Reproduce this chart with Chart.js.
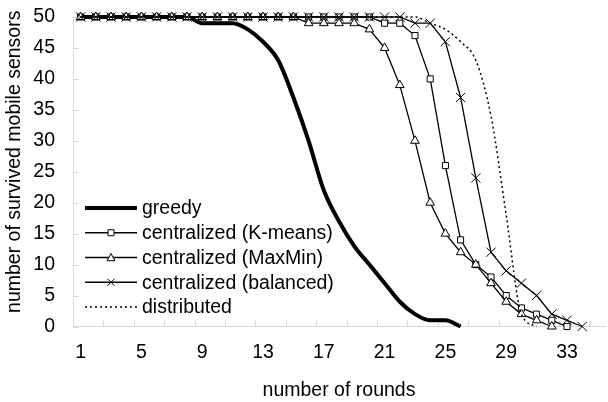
<!DOCTYPE html>
<html>
<head>
<meta charset="utf-8">
<script src="https://cdn.jsdelivr.net/npm/chart.js@4.4.1/dist/chart.umd.min.js"></script>
<style>
  html, body { margin: 0; padding: 0; background: #fff; }
</style>
</head>
<body>
<canvas id="roundsChart" width="608" height="402"></canvas>
<script>
// ======================================
// Data
// ======================================

const rounds = [
  "1", "2", "3", "4", "5", "6", "7", "8", "9", "10", "11", "12",
  "13", "14", "15", "16", "17", "18", "19", "20", "21", "22", "23", "24",
  "25", "26", "27", "28", "29", "30", "31", "32", "33", "34", "35",
];

const greedy = [
  50, 50, 50, 50, 50, 50, 50, 50, 49, 49, 49, 48, 46,
  43, 37, 30, 22, 17, 13, 10, 7, 4, 2, 1, 1, 0,
];
const kMeans = [
  50, 50, 50, 50, 50, 50, 50, 50, 50, 50, 50, 50, 50, 50, 50, 50, 50, 50, 50, 50,
  49, 49, 47, 40, 26, 14, 10, 8, 5, 3, 2, 1, 0,
];
const maxMin = [
  50, 50, 50, 50, 50, 50, 50, 50, 50, 50, 50, 50, 50, 50, 50,
  49, 49, 49, 49, 48, 45, 39, 30, 20, 15, 12, 10, 7, 4, 2, 1, 0,
];
const balanced = [
  50, 50, 50, 50, 50, 50, 50, 50, 50, 50, 50, 50, 50, 50, 50, 50, 50, 50, 50, 50, 50, 50,
  49, 49, 46, 37, 24, 12, 9, 7, 5, 2, 1, 0,
];
const distributed = [
  50, 50, 50, 50, 50, 50, 50, 50, 50, 50, 50, 50, 50, 50, 50, 50, 50, 50, 50, 50, 50, 50, 50,
  49, 48, 46, 43, 34, 18, 2, 0,
];

const yTicks = [0, 5, 10, 15, 20, 25, 30, 35, 40, 45, 50];
const seriesNames = [
  "greedy",
  "centralized (K-means)",
  "centralized (MaxMin)",
  "centralized (balanced)",
  "distributed",
];
const yTitle = "number of survived mobile sensors";

const FONT = { family: "'Liberation Sans', Arial, sans-serif", size: 19.5 };
const AXIS_GREY = "#d9d9d9";

// ======================================
// Helpers
// ======================================

function drawMarker(ctx, style, x, y, r) {
  ctx.beginPath();
  if (style === "rect") {
    ctx.rect(x - r, y - r, 2 * r, 2 * r);
    ctx.fillStyle = "#fff";
    ctx.fill();
  } else if (style === "triangle") {
    ctx.moveTo(x, y - r);
    ctx.lineTo(x + r, y + r * 0.8);
    ctx.lineTo(x - r, y + r * 0.8);
    ctx.closePath();
    ctx.fillStyle = "#fff";
    ctx.fill();
  } else if (style === "crossRot") {
    ctx.moveTo(x - r, y - r);
    ctx.lineTo(x + r, y + r);
    ctx.moveTo(x + r, y - r);
    ctx.lineTo(x - r, y + r);
  }
  ctx.stroke();
}

// tick marks pointing into the plot, Excel style
const insideTicks = {
  id: "insideTicks",
  beforeDatasetsDraw(chart) {
    const { ctx, chartArea, scales } = chart;
    ctx.save();
    ctx.strokeStyle = AXIS_GREY;
    ctx.lineWidth = 1;
    ctx.beginPath();
    yTicks.forEach((v) => {
      const py = Math.round(scales.y.getPixelForValue(v)) + 0.5;
      ctx.moveTo(chartArea.left, py);
      ctx.lineTo(chartArea.left + 6, py);
    });
    const step = (chartArea.right - chartArea.left) / rounds.length;
    for (let i = 0; i <= rounds.length; i += 2) {
      const px = Math.round(chartArea.left + i * step) + 0.5;
      ctx.moveTo(px, chartArea.bottom);
      ctx.lineTo(px, chartArea.bottom - 6);
    }
    ctx.stroke();
    ctx.restore();
  },
};

// legend in the lower left of the plot + the y title (sits a bit above centre)
const plotLegend = {
  id: "plotLegend",
  afterDraw(chart) {
    const { ctx, chartArea } = chart;
    const markerSize = [0, 3, 4, 3.5, 0];
    ctx.save();
    ctx.font = `${FONT.size}px ${FONT.family}`;
    ctx.textBaseline = "middle";
    chart.data.datasets.forEach((ds, i) => {
      const y = chartArea.bottom - 118.5 + i * 24.75;
      const x0 = chartArea.left + 12;
      const x1 = chartArea.left + 64;
      ctx.strokeStyle = "#000";
      ctx.lineWidth = ds.borderWidth;
      ctx.setLineDash(ds.borderDash || []);
      ctx.beginPath();
      ctx.moveTo(x0, y);
      ctx.lineTo(x1, y);
      ctx.stroke();
      ctx.setLineDash([]);
      if (ds.pointRadius > 0) {
        ctx.lineWidth = 1;
        drawMarker(ctx, ds.pointStyle, (x0 + x1) / 2, y, markerSize[i]);
      }
      ctx.fillStyle = "#000";
      ctx.textAlign = "left";
      ctx.fillText(seriesNames[i], chartArea.left + 69, y + 1);
    });

    ctx.translate(15, (chartArea.top + chartArea.bottom) / 2 - 10);
    ctx.rotate(-Math.PI / 2);
    ctx.textAlign = "center";
    ctx.fillText(yTitle, 0, 0);
    ctx.restore();
  },
};

// ======================================
// Chart
// ======================================

function lineSeries(label, data, extra) {
  return Object.assign(
    {
      label,
      data,
      borderColor: "#000",
      borderWidth: 1.3,
      pointBackgroundColor: "#fff",
      pointBorderColor: "#000",
      pointBorderWidth: 1,
      pointRadius: 0,
      pointHoverRadius: 0,
      tension: 0,
      clip: false,
    },
    extra,
  );
}

new Chart(document.getElementById("roundsChart"), {
  type: "line",
  data: {
    labels: rounds,
    datasets: [
      lineSeries(seriesNames[0], greedy, { borderWidth: 4, cubicInterpolationMode: "monotone", order: 5 }),
      lineSeries(seriesNames[1], kMeans, { pointStyle: "rect", pointRadius: 4.3, order: 4 }),
      lineSeries(seriesNames[2], maxMin, { pointStyle: "triangle", pointRadius: 5, order: 3 }),
      lineSeries(seriesNames[3], balanced, { pointStyle: "crossRot", pointRadius: 6.5, order: 2 }),
      lineSeries(seriesNames[4], distributed, {
        borderWidth: 1.5,
        borderDash: [2, 3],
        cubicInterpolationMode: "monotone",
        order: 1,
      }),
    ],
  },
  options: {
    responsive: false,
    animation: false,
    devicePixelRatio: 1,
    layout: { autoPadding: false, padding: { top: 17, right: 3, left: 0, bottom: 0 } },
    plugins: { legend: { display: false }, tooltip: { enabled: false } },
    scales: {
      x: {
        type: "category",
        offset: true,
        grid: { drawOnChartArea: false, drawTicks: false },
        border: { color: AXIS_GREY, width: 1 },
        ticks: {
          autoSkip: false,
          maxRotation: 0,
          padding: 14,
          color: "#000",
          font: FONT,
          callback: (value, index) => (index % 4 === 0 ? rounds[index] : ""),
        },
        title: {
          display: true,
          text: "number of rounds",
          color: "#000",
          font: FONT,
          padding: { top: 5, bottom: 0 },
        },
        afterFit: (scale) => {
          scale.height = 75.5;
          scale.paddingLeft = 0;
          scale.paddingRight = 0;
        },
      },
      y: {
        min: 0,
        max: 50,
        grid: { drawOnChartArea: false, drawTicks: false },
        border: { color: AXIS_GREY, width: 1 },
        ticks: { padding: 18, color: "#000", font: FONT },
        afterBuildTicks: (scale) => {
          scale.ticks = yTicks.map((v) => ({ value: v }));
        },
        afterFit: (scale) => {
          scale.width = 73;
          scale.paddingTop = 0;
          scale.paddingBottom = 0;
        },
      },
    },
  },
  plugins: [insideTicks, plotLegend],
});
</script>
</body>
</html>
